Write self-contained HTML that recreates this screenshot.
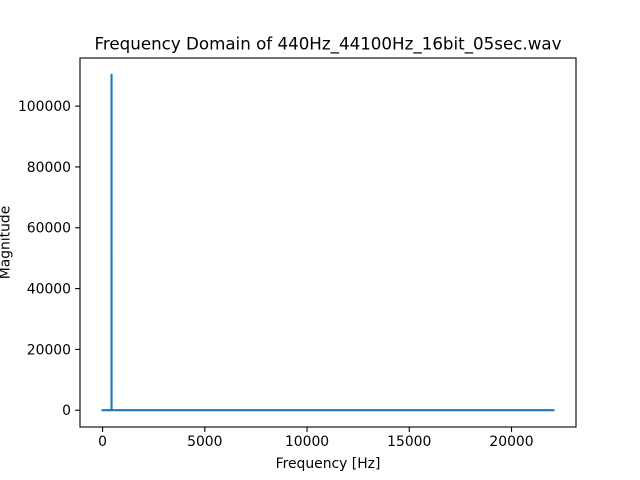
<!DOCTYPE html>
<html><head><meta charset="utf-8"><style>
html,body{margin:0;padding:0;background:#fff;}
svg{display:block;font-family:"DejaVu Sans","Liberation Sans",sans-serif;}
</style></head><body>
<svg id="chart" width="640" height="480" viewBox="0 0 640 480">
<rect width="640" height="480" fill="#fff"/>
<text x="328" y="49.5" font-size="16.7" text-anchor="middle">Frequency Domain of 440Hz_44100Hz_16bit_05sec.wav</text>
<g id="plot"></g>
</svg>
<script>
const freq = [0, 439.8, 440, 440.2, 22050];
const mag = [0, 0, 110300, 0, 0];
const xTicks = [0, 5000, 10000, 15000, 20000];
const yTicks = [0, 20000, 40000, 60000, 80000, 100000];

const L=80,R=576,T=58,B=427;
const xmin=-1102.5,xmax=23152.5,ymin=-5515,ymax=115815;
const X=v=>L+(v-xmin)/(xmax-xmin)*(R-L);
const Y=v=>B-(v-ymin)/(ymax-ymin)*(B-T);
const NS="http://www.w3.org/2000/svg";
const g=document.getElementById('plot');
function mk(t,a,p){const e=document.createElementNS(NS,t);for(const k in a)e.setAttribute(k,a[k]);(p||g).appendChild(e);return e;}

const line=mk('polyline',{points:freq.map((f,i)=>X(f)+','+Y(mag[i])).join(' '),fill:'none',stroke:'#1f77b4','stroke-width':2.08,'stroke-linejoin':'round','stroke-linecap':'square'});



const frame=mk('rect',{x:L,y:T,width:R-L,height:B-T,fill:'none',stroke:'#000','stroke-width':1.1});



xTicks.forEach(v=>{
  const x=X(v);
  const t=mk('line',{x1:x,x2:x,y1:B,y2:B+4.9,stroke:'#000','stroke-width':1.1});
  
  
  const l=mk('text',{x:x,y:B+19,'font-size':13.9,'text-anchor':'middle'});
  l.textContent=v;
  
  
});
yTicks.forEach(v=>{
  const y=Y(v);
  const t=mk('line',{x1:L-4.9,x2:L,y1:y,y2:y,stroke:'#000','stroke-width':1.1});
  
  
  const l=mk('text',{x:L-9,y:y+5,'font-size':13.9,'text-anchor':'end'});
  l.textContent=v;
  
  
});
const xt=mk('text',{x:(L+R)/2,y:468,'font-size':13.9,'text-anchor':'middle'});
xt.textContent='Frequency [Hz]';


const yt=mk('text',{x:0,y:0,'font-size':13.9,'text-anchor':'middle',transform:'translate(9.5,'+((T+B)/2)+') rotate(-90)'});
yt.textContent='Magnitude';


</script>
</body></html>
